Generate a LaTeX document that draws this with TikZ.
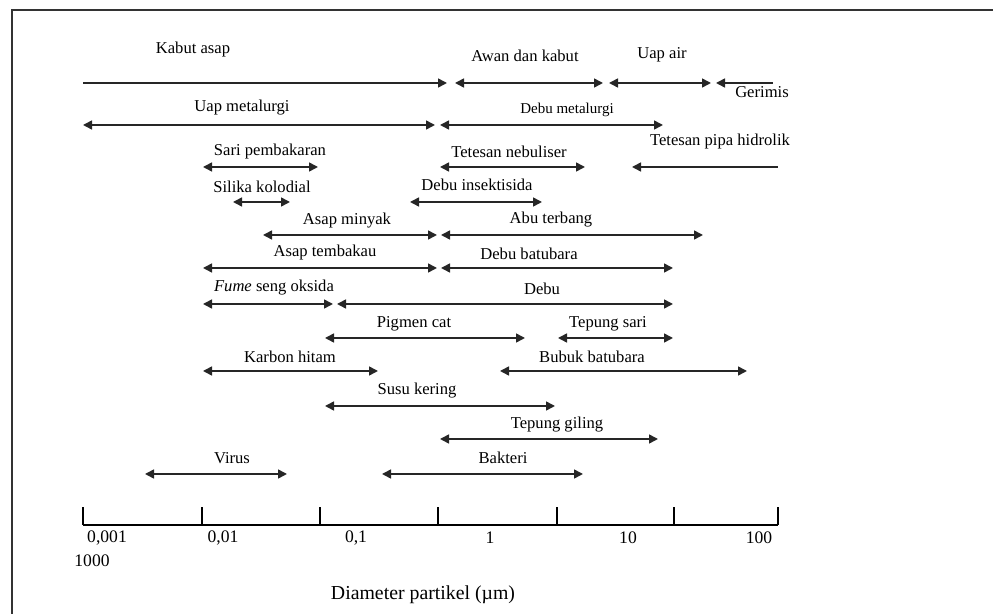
\documentclass[tikz,border=0pt]{standalone}
\usepackage{fontspec}
\setmainfont{Liberation Serif}
\usetikzlibrary{arrows.meta}
\begin{document}
\begin{tikzpicture}[x=0.5pt,y=-0.5pt,>={Triangle[length=4.5pt,width=4.5pt]}]
	\useasboundingbox (0,0) rectangle (993,614);
	\draw[line width=0.6pt,black!80] (12,614) -- (12,10) -- (993,10);

	% end points of the size ranges
	\coordinate (kabutL) at (83,83);   \coordinate (kabutR) at (447,83);
	\coordinate (awanL) at (455,83);   \coordinate (awanR) at (603,83);
	\coordinate (uapL) at (609,83);    \coordinate (uapR) at (711,83);
	\coordinate (gerL) at (716,83);    \coordinate (gerR) at (773,83);
	\coordinate (umetL) at (83,125);   \coordinate (umetR) at (435,125);
	\coordinate (dmetL) at (440,125);  \coordinate (dmetR) at (663,125);
	\coordinate (sariL) at (203,167);  \coordinate (sariR) at (318,167);
	\coordinate (nebL) at (440,167);   \coordinate (nebR) at (585,167);
	\coordinate (pipaL) at (632,167);  \coordinate (pipaR) at (778,167);
	\coordinate (silL) at (233,202);   \coordinate (silR) at (290,202);
	\coordinate (insL) at (410,202);   \coordinate (insR) at (542,202);
	\coordinate (minL) at (263,235);   \coordinate (minR) at (437,235);
	\coordinate (abuL) at (441,235);   \coordinate (abuR) at (703,235);
	\coordinate (tembL) at (203,268);  \coordinate (tembR) at (437,268);
	\coordinate (dbatL) at (441,268);  \coordinate (dbatR) at (673,268);
	\coordinate (fumeL) at (203,304);  \coordinate (fumeR) at (333,304);
	\coordinate (debuL) at (337,304);  \coordinate (debuR) at (673,304);
	\coordinate (pigL) at (325,338);   \coordinate (pigR) at (525,338);
	\coordinate (tsariL) at (558,338); \coordinate (tsariR) at (673,338);
	\coordinate (karL) at (203,371);   \coordinate (karR) at (378,371);
	\coordinate (bubL) at (500,371);   \coordinate (bubR) at (747,371);
	\coordinate (susuL) at (325,406);  \coordinate (susuR) at (555,406);
	\coordinate (gilL) at (440,439);   \coordinate (gilR) at (658,439);
	\coordinate (virL) at (145,474);   \coordinate (virR) at (287,474);
	\coordinate (bakL) at (382,474);   \coordinate (bakR) at (583,474);

	\begin{scope}[every node/.style={font=\fontsize{8.3}{10}\selectfont,inner sep=0pt}]
		\node (kabut) at (193,50) {Kabut asap};
		\node (awan) at (525,56) {Awan dan kabut};
		\node (uap) at (662,55) {Uap air};
		\node (ger) at (762,92) {Gerimis};
		\node (umet) at (242,108) {Uap metalurgi};
		\node[font=\fontsize{7.5}{9}\selectfont] (dmet) at (567,110) {Debu metalurgi};
		\node (sari) at (270,152) {Sari pembakaran};
		\node (neb) at (509,152) {Tetesan nebuliser};
		\node (pipa) at (720,142) {Tetesan pipa hidrolik};
		\node (sil) at (262,187) {Silika kolodial};
		\node (ins) at (477,185) {Debu insektisida};
		\node (min) at (347,221) {Asap minyak};
		\node (abu) at (551,220) {Abu terbang};
		\node (temb) at (325,253) {Asap tembakau};
		\node (dbat) at (529,254) {Debu batubara};
		\node (fume) at (274,288) {\textit{Fume} seng oksida};
		\node (debu) at (542,289) {Debu};
		\node (pig) at (414,324) {Pigmen cat};
		\node (tsari) at (608,324) {Tepung sari};
		\node (kar) at (290,357) {Karbon hitam};
		\node (bub) at (592,357) {Bubuk batubara};
		\node (susu) at (417,391) {Susu kering};
		\node (gil) at (557,425) {Tepung giling};
		\node (vir) at (232,458) {Virus};
		\node (bak) at (503,458) {Bakteri};
	\end{scope}

	\begin{scope}[every edge/.style={draw=black!85,line width=0.8pt}]
		\path [->] (kabutL) edge (kabutR);
		\path [<->] (awanL) edge (awanR);
		\path [<->] (uapL) edge (uapR);
		\path [<-] (gerL) edge (gerR);
		\path [<->] (umetL) edge (umetR);
		\path [<->] (dmetL) edge (dmetR);
		\path [<->] (sariL) edge (sariR);
		\path [<->] (nebL) edge (nebR);
		\path [<-] (pipaL) edge (pipaR);
		\path [<->] (silL) edge (silR);
		\path [<->] (insL) edge (insR);
		\path [<->] (minL) edge (minR);
		\path [<->] (abuL) edge (abuR);
		\path [<->] (tembL) edge (tembR);
		\path [<->] (dbatL) edge (dbatR);
		\path [<->] (fumeL) edge (fumeR);
		\path [<->] (debuL) edge (debuR);
		\path [<->] (pigL) edge (pigR);
		\path [<->] (tsariL) edge (tsariR);
		\path [<->] (karL) edge (karR);
		\path [<->] (bubL) edge (bubR);
		\path [<->] (susuL) edge (susuR);
		\path [<->] (gilL) edge (gilR);
		\path [<->] (virL) edge (virR);
		\path [<->] (bakL) edge (bakR);
	\end{scope}

	% axis
	\coordinate (ax0) at (83,525);
	\coordinate (ax1) at (778,525);
	\draw[line width=0.7pt] (ax0) -- (ax1);
	\foreach \t in {83,202,320,438,557,674,778}
		\draw[line width=0.6pt] (\t,525) -- (\t,507);
	\begin{scope}[every node/.style={font=\fontsize{8.8}{10}\selectfont,inner sep=0pt}]
		\node (l1) at (107,538) {0,001};
		\node (l2) at (223,538) {0,01};
		\node (l3) at (356,538) {0,1};
		\node (l4) at (490,538) {1};
		\node (l5) at (628,538) {10};
		\node (l6) at (759,538) {100};
		\node (l7) at (92,561) {1000};
		\node[font=\fontsize{9.9}{12}\selectfont] (xlab) at (423,595) {Diameter partikel (µm)};
	\end{scope}
\end{tikzpicture}
\end{document}
